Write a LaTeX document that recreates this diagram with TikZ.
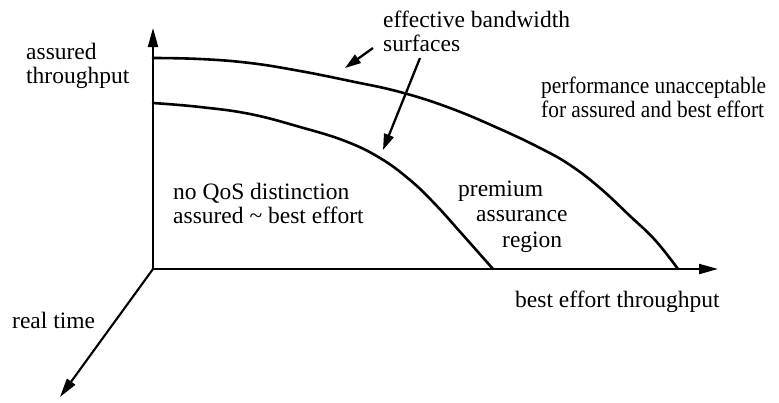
\documentclass[tikz,border=0pt]{standalone}
\usepackage{fontspec}
\setmainfont{Liberation Serif}
\newfontfamily\narrowserif[FakeStretch=0.91]{Liberation Serif}
\usetikzlibrary{arrows.meta}
\begin{document}
\begin{tikzpicture}[x=1pt,y=-1pt,
  axis/.style={line width=2.1pt,-{Triangle[length=19pt,width=10pt]}},
  surface/.style={line width=2.6pt,line join=round,line cap=round},
  pointer/.style={line width=2.3pt,-{Triangle[length=16pt,width=10pt]}},
  lbl/.style={inner sep=0pt,font=\fontsize{23.5}{24}\selectfont}]
\useasboundingbox (0,0) rectangle (779,402);

% axes
\coordinate (o) at (153,269);
\coordinate (yend) at (153,28);
\coordinate (xend) at (718,269);
\coordinate (zend) at (60,397);
\draw[axis] (o) -- (yend);
\draw[axis] (o) -- (xend);
\draw[axis] (o) -- (zend);

% effective bandwidth surfaces
\draw[surface] plot[smooth,tension=0.7] coordinates {
  (153,58) (200,59) (250,63) (300,71) (350,81) (400,92) (450,108)
  (500,129) (540,148) (570,165) (600,188) (630,216) (655,240) (678,269)};
\draw[surface] plot[smooth,tension=0.7] coordinates {
  (153,103) (200,107) (250,114) (300,127) (345,141) (380,158)
  (410,180) (435,204) (462,234) (493,269)};

% labels
\node[lbl,anchor=north west,align=left] (ylab) at (26,42)
  {\strut assured\\\strut throughput};
\node[lbl,anchor=north west,align=left] (surf) at (383,10)
  {\strut effective bandwidth\\\strut surfaces};
\node[lbl,anchor=north west,align=left,
      font=\fontsize{23.5}{24}\narrowserif] (perf) at (541,76)
  {\strut performance unacceptable\\\strut for assured and best effort};
\node[lbl,anchor=north west,align=left] (noqos) at (173,182)
  {\strut no QoS distinction\\\strut assured \textasciitilde{} best effort};
\node[lbl,anchor=north west,align=left,
      font=\fontsize{23.5}{25.5}\selectfont] (prem) at (458,178)
  {\strut premium\\\strut\hspace*{18pt}assurance\\\strut\hspace*{44pt}region};
\node[lbl,anchor=base west] (xlab) at (515,307) {best effort throughput};
\node[lbl,anchor=base west] (zlab) at (12,328) {real time};

% pointers from the surfaces label
\coordinate (p1s) at (373,48);
\coordinate (p1e) at (345,68);
\coordinate (p2s) at (420,58);
\coordinate (p2e) at (383,150);
\draw[pointer] (p1s) -- (p1e);
\draw[pointer] (p2s) -- (p2e);
\end{tikzpicture}
\end{document}
